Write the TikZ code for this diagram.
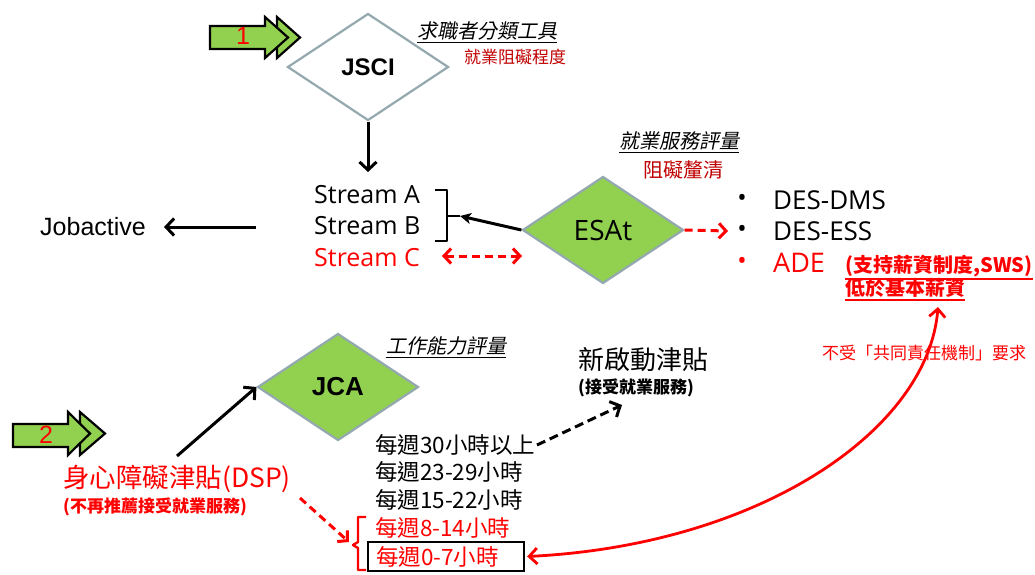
\documentclass[tikz,border=0pt]{standalone}
\usepackage{fontspec}
\setmainfont{Noto Sans CJK TC}
\newfontfamily\cjk{Noto Sans CJK TC}
\newfontfamily\cjkit{Noto Sans CJK TC}[FakeSlant=0.2]
\newfontfamily\arialf{Liberation Sans}
\newfontfamily\opens{Open Sans}
\usetikzlibrary{shapes.geometric,arrows.meta}
\definecolor{grn}{HTML}{92D050}
\definecolor{diab}{HTML}{93A9AF}
\definecolor{dred}{HTML}{C00000}
\newcommand\myfs[1]{\fontsize{#1}{#1}\selectfont}
\tikzset{
  dia/.style={diamond, draw=diab, line width=2.2pt, minimum width=161pt, minimum height=107pt, inner sep=0pt},
  txt/.style={inner sep=0pt, anchor=west},
  ul/.style={line width=1.4pt},
  blk/.style={draw=black, line width=3pt, -{Straight Barb[length=8pt,width=17pt]}},
  blkdash/.style={blk, dash pattern=on 9pt off 5pt},
  reddash/.style={draw=red, line width=3pt, dash pattern=on 8pt off 5pt, -{Straight Barb[length=7pt,width=15pt]}},
  redboth/.style={draw=red, line width=3pt, dash pattern=on 8pt off 5pt, {Straight Barb[length=7pt,width=15pt]}-{Straight Barb[length=7pt,width=15pt]}},
  redcurve/.style={draw=red, line width=2.8pt, {Straight Barb[length=8pt,width=16pt]}-{Straight Barb[length=8pt,width=16pt]}},
  bigarrow/.style={fill=grn, draw=black, line width=2.2pt, line join=miter},
  brk/.style={line width=2.4pt, line join=round}
}
\begin{document}
\begin{tikzpicture}[x=1pt,y=-1pt]
\useasboundingbox[fill=white] (0,0) rectangle (1035,574);

% big block arrows
\draw[bigarrow] (277,17) -- (300,37.5) -- (277,58) -- cycle;
\draw[bigarrow] (210,26) -- (265,26) -- (265,17) -- (288,37.5) -- (265,58) -- (265,49) -- (210,49) -- cycle;
\node[text=red] (n1) at (243,36) {\arialf\myfs{25}1};
\draw[bigarrow] (80,412) -- (105,433.5) -- (80,455) -- cycle;
\draw[bigarrow] (13,424) -- (68,424) -- (68,412) -- (90,433.5) -- (68,455) -- (68,447) -- (13,447) -- cycle;
\node[text=red] (n2) at (46,435) {\arialf\myfs{25}2};

% diamonds
\node[dia, fill=white] (jsci) at (368,67) {\arialf\bfseries\myfs{24}JSCI};
\node[dia, fill=grn] (esat) at (603,230) {\opens\myfs{28}ESAt};
\node[dia, fill=grn] (jca) at (338,387) {\arialf\bfseries\myfs{26}JCA};

% labels
\node[inner sep=0pt] (l1) at (487,31) {\cjkit\myfs{20}求職者分類工具};
\draw[ul] ([yshift=-2pt]l1.south west) -- ([yshift=-2pt]l1.south east);
\node[inner sep=0pt, text=dred] (l1b) at (515,57) {\myfs{17}就業阻礙程度};
\node[inner sep=0pt] (l2) at (679,141) {\cjkit\myfs{20}就業服務評量};
\draw[ul] ([yshift=-2pt]l2.south west) -- ([yshift=-2pt]l2.south east);
\node[inner sep=0pt, text=dred] (l2b) at (683,170) {\myfs{20}阻礙釐清};
\node[inner sep=0pt] (l3) at (446,346) {\cjkit\myfs{20}工作能力評量};
\draw[ul] ([yshift=-2pt]l3.south west) -- ([yshift=-2pt]l3.south east);

% streams
\node[txt] (sA) at (314,195) {\opens\myfs{25}Stream A};
\node[txt] (sB) at (314,226) {\opens\myfs{25}Stream B};
\node[txt, text=red] (sC) at (314,258) {\opens\myfs{25}Stream C};
\node[txt] (job) at (40,227) {\arialf\myfs{25}Jobactive};

% bullets
\node[inner sep=0pt] (b1) at (742,200) {\opens\myfs{25}•};
\node[inner sep=0pt] (b2) at (742,231) {\opens\myfs{25}•};
\node[inner sep=0pt, text=red] (b3) at (742,263) {\opens\myfs{25}•};
\node[txt] (dms) at (773,200) {\opens\myfs{26}DES-DMS};
\node[txt] (ess) at (773,231) {\opens\myfs{26}DES-ESS};
\node[txt, text=red] (ade) at (773,263) {\opens\myfs{27}ADE};
\node[txt, text=red] (sws) at (845,266) {\bfseries\myfs{20}(支持薪資制度,SWS)};
\draw[ul, draw=red] ([yshift=-2pt]sws.south west) -- ([yshift=-2pt]sws.south east);
\node[txt, text=red] (low) at (845,288) {\bfseries\myfs{20}低於基本薪資};
\draw[ul, draw=red] ([yshift=-2pt]low.south west) -- ([yshift=-2pt]low.south east);

% lower right
\node[txt] (new) at (578,360) {\myfs{26}新啟動津貼};
\node[txt] (newb) at (578,388) {\bfseries\myfs{17}(接受就業服務)};
\node[txt, text=red] (resp) at (822,353) {\myfs{17}不受「共同責任機制」要求};

% hours
\node[txt] (h1) at (375,445) {\myfs{22.5}每週30小時以上};
\node[txt] (h2) at (375,472) {\myfs{22.5}每週23-29小時};
\node[txt] (h3) at (375,500) {\myfs{22.5}每週15-22小時};
\node[txt, text=red] (h4) at (375,528) {\myfs{22.5}每週8-14小時};
\node[draw=black, line width=2.2pt, text=red, anchor=west, inner xsep=8pt, inner ysep=0pt, text width=140pt, align=left, minimum height=29pt] (h5) at (367,556.5) {\myfs{22.5}每週0-7小時};

% DSP
\node[txt, text=red] (dsp) at (63,479) {\myfs{26.5}身心障礙津貼(DSP)};
\node[txt, text=red] (dspb) at (63,507) {\bfseries\myfs{17}(不再推薦接受就業服務)};

% brackets
\draw[brk] (435,190) -- (447,190) -- (447,241) -- (435,241);
\draw[brk] (447,216) -- (460,216);
\draw[brk, draw=red] (366,517) -- (358,517) -- (358,542) -- (353,545) -- (358,548) -- (358,570) -- (366,570);

% coordinates
\coordinate (jsciEnd) at (368,172);
\coordinate (jaStart) at (256,227);
\coordinate (brkTip) at (460,216);
\coordinate (scL) at (442,256);
\coordinate (scR) at (522,256);
\coordinate (bulEnd) at (728,231);
\coordinate (jcaStart) at (177,456);
\coordinate (dspS) at (300,498);
\coordinate (dspE) at (349,542);
\coordinate (hS) at (537,445);
\coordinate (hE) at (622,405);
\coordinate (adeEnd) at (938,307);

% connectors
\draw[blk] (jsci.south) -- (jsciEnd);
\draw[blk] (jaStart) -- ([xshift=18pt]job.east);
\draw[line width=3pt, -{Stealth[length=11pt,width=11pt,inset=3pt]}] (esat.west) -- (brkTip);
\draw[redboth] (scL) -- (scR);
\draw[reddash] (esat.east) -- (bulEnd);
\draw[blk] (jcaStart) -- (jca.west);
\draw[reddash] (dspS) -- (dspE);
\draw[blkdash] (hS) -- (hE);
\draw[redcurve] ([xshift=2pt]h5.east) .. controls (760,545) and (928,430) .. (adeEnd);
\end{tikzpicture}
\end{document}
